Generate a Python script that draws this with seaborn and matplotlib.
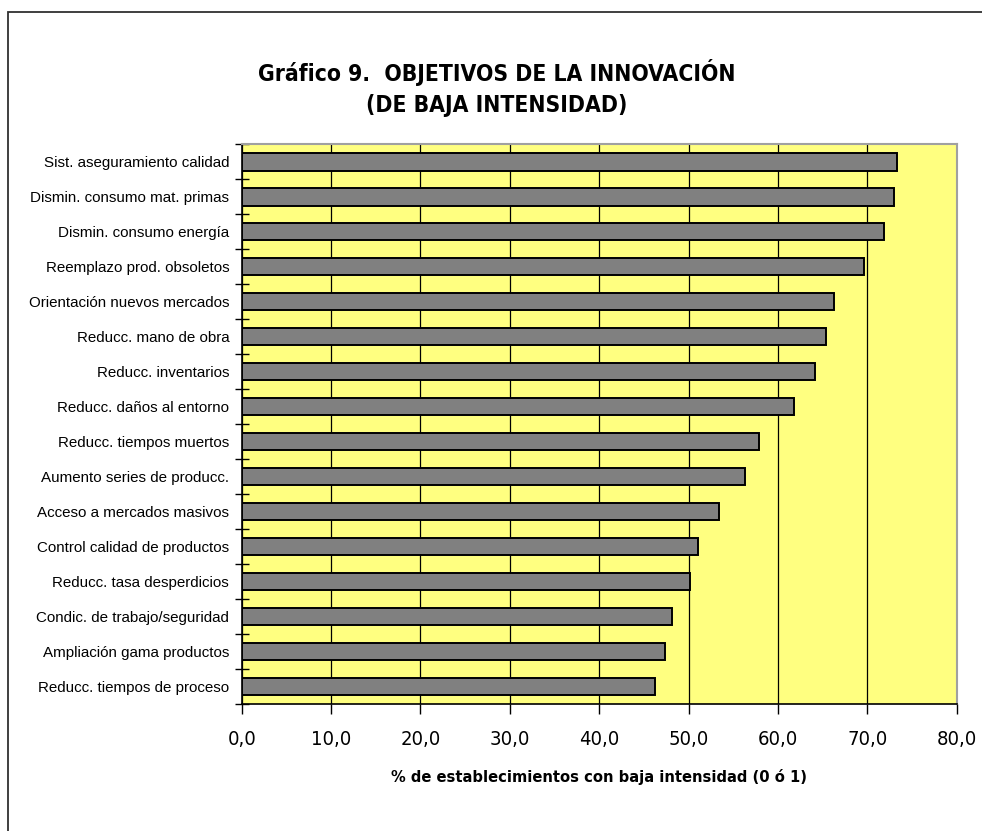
import os
import matplotlib
matplotlib.use("Agg")
import matplotlib.pyplot as plt
from matplotlib import font_manager
from matplotlib.patches import Rectangle
from matplotlib.ticker import MultipleLocator, FixedLocator, FuncFormatter
import seaborn as sns
import pandas as pd

# Objetivos de la innovación (porcentaje de establecimientos, baja intensidad)
objetivos = [
    "Sist. aseguramiento calidad",
    "Dismin. consumo mat. primas",
    "Dismin. consumo energía",
    "Reemplazo prod. obsoletos",
    "Orientación nuevos mercados",
    "Reducc. mano de obra",
    "Reducc. inventarios",
    "Reducc. daños al entorno",
    "Reducc. tiempos muertos",
    "Aumento series de producc.",
    "Acceso a mercados masivos",
    "Control calidad de productos",
    "Reducc. tasa desperdicios",
    "Condic. de trabajo/seguridad",
    "Ampliación gama productos",
    "Reducc. tiempos de proceso",
]
porcentajes = [73.3, 73.0, 71.9, 69.6, 66.3, 65.4, 64.1, 61.8,
               57.9, 56.3, 53.4, 51.1, 50.2, 48.1, 47.4, 46.2]

titulo = "Gráfico 9.  OBJETIVOS DE LA INNOVACIÓN\n(DE BAJA INTENSIDAD)"
etiqueta_x = "% de establecimientos con baja intensidad (0 ó 1)"

df = pd.DataFrame({"objetivo": objetivos, "porcentaje": porcentajes})

sns.set_theme(style="white")
plt.rcParams["font.family"] = ["Liberation Sans", "DejaVu Sans"]
plt.rcParams["text.color"] = "black"
plt.rcParams["axes.labelcolor"] = "black"
plt.rcParams["xtick.color"] = "black"
plt.rcParams["ytick.color"] = "black"


def narrow_font(weight="normal"):
    """Pick a condensed sans face if one is installed."""
    for fam, stretch in [("Liberation Sans Narrow", "normal"),
                         ("DejaVu Sans", "condensed")]:
        fp = font_manager.FontProperties(family=fam, stretch=stretch, weight=weight)
        try:
            path = font_manager.findfont(fp, fallback_to_default=False)
        except Exception:
            continue
        name = os.path.basename(path).lower()
        if "narrow" in name or "condensed" in name:
            return fp, True
    return font_manager.FontProperties(family="Liberation Sans", weight=weight), False


title_fp, title_narrow = narrow_font("bold")
tick_fp, tick_narrow = narrow_font("normal")
label_fp, label_narrow = narrow_font("bold")

fig = plt.figure(figsize=(9.82, 8.31), dpi=100)
W, H = 982, 831

# outer chart frame
fig.patches.append(Rectangle((8 / W, -0.05), 1.2, 1 - 12 / H + 0.05,
                             transform=fig.transFigure, fill=False,
                             edgecolor="#303030", linewidth=1.3, zorder=0))

ax = fig.add_axes([241.7 / W, 1 - 704 / H, (956.7 - 241.7) / W, (704 - 144.3) / H])
ax.set_facecolor("#FFFF80")

sns.barplot(data=df, x="porcentaje", y="objetivo", orient="h", ax=ax,
            color="#808080", saturation=1, width=0.5,
            edgecolor="black", linewidth=1.4, zorder=3)

ax.set_xlim(0, 80)
ax.set_ylim(len(objetivos) - 0.5, -0.5)
ax.xaxis.set_major_locator(MultipleLocator(10))
ax.xaxis.set_major_formatter(FuncFormatter(lambda v, p: f"{v:.1f}".replace(".", ",")))
ax.grid(axis="x", color="black", linewidth=0.9, zorder=1)
ax.grid(axis="y", visible=False)
ax.set_axisbelow(True)

# category boundary ticks crossing the value axis
ax.yaxis.set_minor_locator(FixedLocator([i - 0.5 for i in range(len(objetivos) + 1)]))
ax.tick_params(axis="y", which="major", length=0, pad=9)
ax.tick_params(axis="y", which="minor", length=10, width=1, direction="inout",
               color="black", left=True)
ax.tick_params(axis="x", which="major", length=7, width=1, direction="out",
               color="black", bottom=True, pad=12)
for lab in ax.get_yticklabels():
    lab.set_fontproperties(font_manager.FontProperties(family="Liberation Sans"))
    lab.set_fontsize(10.9)
    lab.set_color("black")
for lab in ax.get_xticklabels():
    lab.set_fontproperties(tick_fp)
    lab.set_fontsize(14.5 if tick_narrow else 12.5)
    lab.set_color("black")

for side in ["left", "bottom"]:
    ax.spines[side].set_color("black")
    ax.spines[side].set_linewidth(1.2)
for side in ["top", "right"]:
    ax.spines[side].set_color("#A0A0A0")
    ax.spines[side].set_linewidth(1.5)

ax.set_ylabel("")
ax.set_xlabel(etiqueta_x, fontproperties=label_fp,
              fontsize=11.8 if label_narrow else 11.0, labelpad=14)

fig.text(0.506, 1 - 88 / H, titulo, ha="center", va="center",
         fontproperties=title_fp, fontsize=16.4 if title_narrow else 16.0,
         linespacing=1.45)

fig.savefig("out.png", dpi=100, facecolor="white")
